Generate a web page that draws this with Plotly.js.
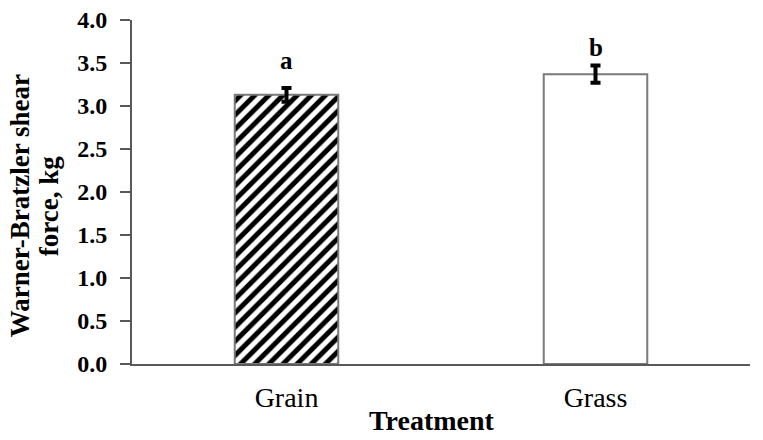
<!DOCTYPE html>
<html>
<head>
<meta charset="utf-8">
<script src="https://cdn.plot.ly/plotly-3.0.1.min.js"></script>
<style>html,body{margin:0;padding:0;background:#fff;}#chart{width:763px;height:440px;}</style>
</head>
<body>
<div id="chart"></div>
<script>
const categories = ["Grain", "Grass"];
const values = [3.13, 3.37];
const errors = [0.08, 0.10];
const letters = ["a", "b"];
const patterns = ["/", ""];
const yTicks = [0, 0.5, 1.0, 1.5, 2.0, 2.5, 3.0, 3.5, 4.0];
const yTitleLines = ["Warner-Bratzler shear", "force, kg"];
const xTitle = "Treatment";

const font = "Liberation Serif, Times New Roman, serif";
const letterShift = [12, 3];
const yTitleX = [-0.181, -0.134];

const traces = categories.map((c, i) => ({
  type: "bar",
  x: [c],
  y: [values[i]],
  width: 0.335,
  marker: {
    color: "white",
    line: {color: "#7a7a7a", width: 2},
    pattern: {shape: patterns[i], fgcolor: "black", bgcolor: "white", size: 10, solidity: 0.5, fillmode: "replace"}
  },
  error_y: {type: "data", array: [errors[i]], visible: true, color: "black", thickness: 4, width: 5}
}));

const annotations = categories.map((c, i) => ({
  x: c, y: values[i] + errors[i], yanchor: "bottom", yshift: letterShift[i],
  text: "<b>" + letters[i] + "</b>", showarrow: false,
  font: {family: font, size: 25, color: "black"}
}));

yTitleLines.forEach((t, i) => annotations.push({
  xref: "paper", yref: "paper", x: yTitleX[i], y: 0.459,
  xanchor: "center", yanchor: "middle", textangle: -90,
  text: "<b>" + t + "</b>", showarrow: false,
  font: {family: font, size: 27, color: "black"}
}));

annotations.push({
  xref: "paper", yref: "paper", x: 0.485, y: -0.163,
  xanchor: "center", yanchor: "middle",
  text: "<b>" + xTitle + "</b>", showarrow: false,
  font: {family: font, size: 28, color: "black"}
});

const layout = {
  width: 763, height: 440,
  margin: {l: 132, r: 13, t: 20, b: 76},
  paper_bgcolor: "white", plot_bgcolor: "white",
  showlegend: false,
  barmode: "overlay",
  xaxis: {
    type: "category",
    range: [-0.5, 1.5],
    showline: true, linecolor: "#595959", linewidth: 2,
    ticks: "", showgrid: false, zeroline: false,
    ticklabelstandoff: 7,
    tickfont: {family: font, size: 28, color: "black"}
  },
  yaxis: {
    range: [0, 4.0],
    tickvals: yTicks,
    ticktext: yTicks.map(v => "<b>" + v.toFixed(1) + "</b>"),
    showline: true, linecolor: "#595959", linewidth: 2,
    ticks: "outside", ticklen: 10, tickwidth: 2, tickcolor: "#595959",
    ticklabelstandoff: 8,
    showgrid: false, zeroline: false,
    tickfont: {family: font, size: 24, color: "black"}
  },
  annotations: annotations
};

Plotly.newPlot("chart", traces, layout, {displayModeBar: false});
</script>
</body>
</html>
